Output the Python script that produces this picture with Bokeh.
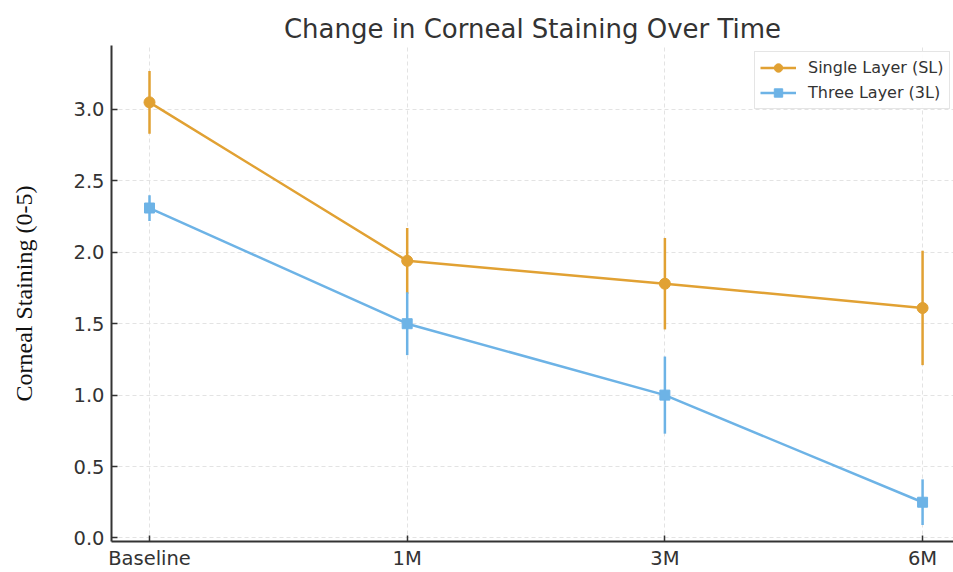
from bokeh.plotting import figure
from bokeh.models import Range1d, Legend, LegendItem, FixedTicker, CustomJSTickFormatter
from bokeh.embed import file_html
from bokeh.resources import INLINE

categories = ["Baseline", "1M", "3M", "6M"]
sl_mean = [3.05, 1.94, 1.78, 1.61]
sl_err = [0.22, 0.23, 0.32, 0.40]
tl_mean = [2.31, 1.50, 1.00, 0.25]
tl_err = [0.09, 0.22, 0.27, 0.16]
y_ticks = [0.0, 0.5, 1.0, 1.5, 2.0, 2.5, 3.0]

x = list(range(len(categories)))
ORANGE = "#E1A133"
BLUE = "#6DB3E6"

p = figure(width=953, height=572, output_backend="svg", toolbar_location=None,
           x_range=Range1d(-0.1475, 3.12), y_range=Range1d(-0.025, 3.448),
           title="Change in Corneal Staining Over Time",
           min_border_left=111, min_border_right=0, min_border_top=45, min_border_bottom=0)

p.title.text_font = "DejaVu Sans"
p.title.text_font_size = "26px"
p.title.text_font_style = "normal"
p.title.text_color = "#333333"
p.title.align = "center"
p.title.offset = 0
p.title.standoff = 4

def series(mean, err, color, marker, size, label):
    lo = [m - e for m, e in zip(mean, err)]
    hi = [m + e for m, e in zip(mean, err)]
    p.segment(x0=x, y0=lo, x1=x, y1=hi, line_color=color, line_width=2.5)
    ln = p.line(x, mean, line_color=color, line_width=2.5)
    mk = p.scatter(x, mean, marker=marker, size=size, fill_color=color, line_color=color)
    return LegendItem(label=label, renderers=[ln, mk])

it1 = series(sl_mean, sl_err, ORANGE, "circle", 11, "Single Layer (SL)")
it2 = series(tl_mean, tl_err, BLUE, "square", 10, "Three Layer (3L)")

legend = Legend(items=[it1, it2], location=(643, 432))
legend.label_text_font = "DejaVu Sans"
legend.label_text_font_size = "16px"
legend.label_text_color = "#333333"
legend.border_line_color = "#cccccc"
legend.border_line_width = 1
legend.background_fill_alpha = 0.9
legend.glyph_width = 36
legend.glyph_height = 21
legend.label_height = 21
legend.spacing = 4
legend.padding = 5
legend.margin = 0
legend.label_standoff = 12
p.add_layout(legend)

p.xaxis.ticker = FixedTicker(ticks=x)
p.xaxis.major_label_overrides = {i: c for i, c in enumerate(categories)}
p.yaxis.ticker = FixedTicker(ticks=y_ticks)
p.yaxis.formatter = CustomJSTickFormatter(code="return tick.toFixed(1);")

for ax in (p.xaxis, p.yaxis):
    ax.major_tick_in = 6
    ax.major_tick_out = 0
    ax.minor_tick_in = 0
    ax.minor_tick_out = 0
    ax.axis_line_color = "#333333"
    ax.axis_line_width = 2
    ax.major_tick_line_color = "#333333"
    ax.major_tick_line_width = 1.5
    ax.major_label_text_font = "DejaVu Sans"
    ax.major_label_text_font_size = "19.5px"
    ax.major_label_text_color = "#333333"
p.xaxis.major_label_standoff = 5
p.yaxis.major_label_standoff = 7

p.yaxis.axis_label = "Corneal Staining (0-5)"
p.yaxis.axis_label_text_font = "Liberation Serif"
p.yaxis.axis_label_text_font_size = "24px"
p.yaxis.axis_label_text_font_style = "normal"
p.yaxis.axis_label_text_color = "#111111"
p.yaxis.axis_label_standoff = 33

p.xgrid.grid_line_color = "#e3e3e3"
p.ygrid.grid_line_color = "#e3e3e3"
p.xgrid.grid_line_dash = "4 3"
p.ygrid.grid_line_dash = "4 3"
p.outline_line_color = None

open("out.html", "w").write(file_html(p, INLINE))
